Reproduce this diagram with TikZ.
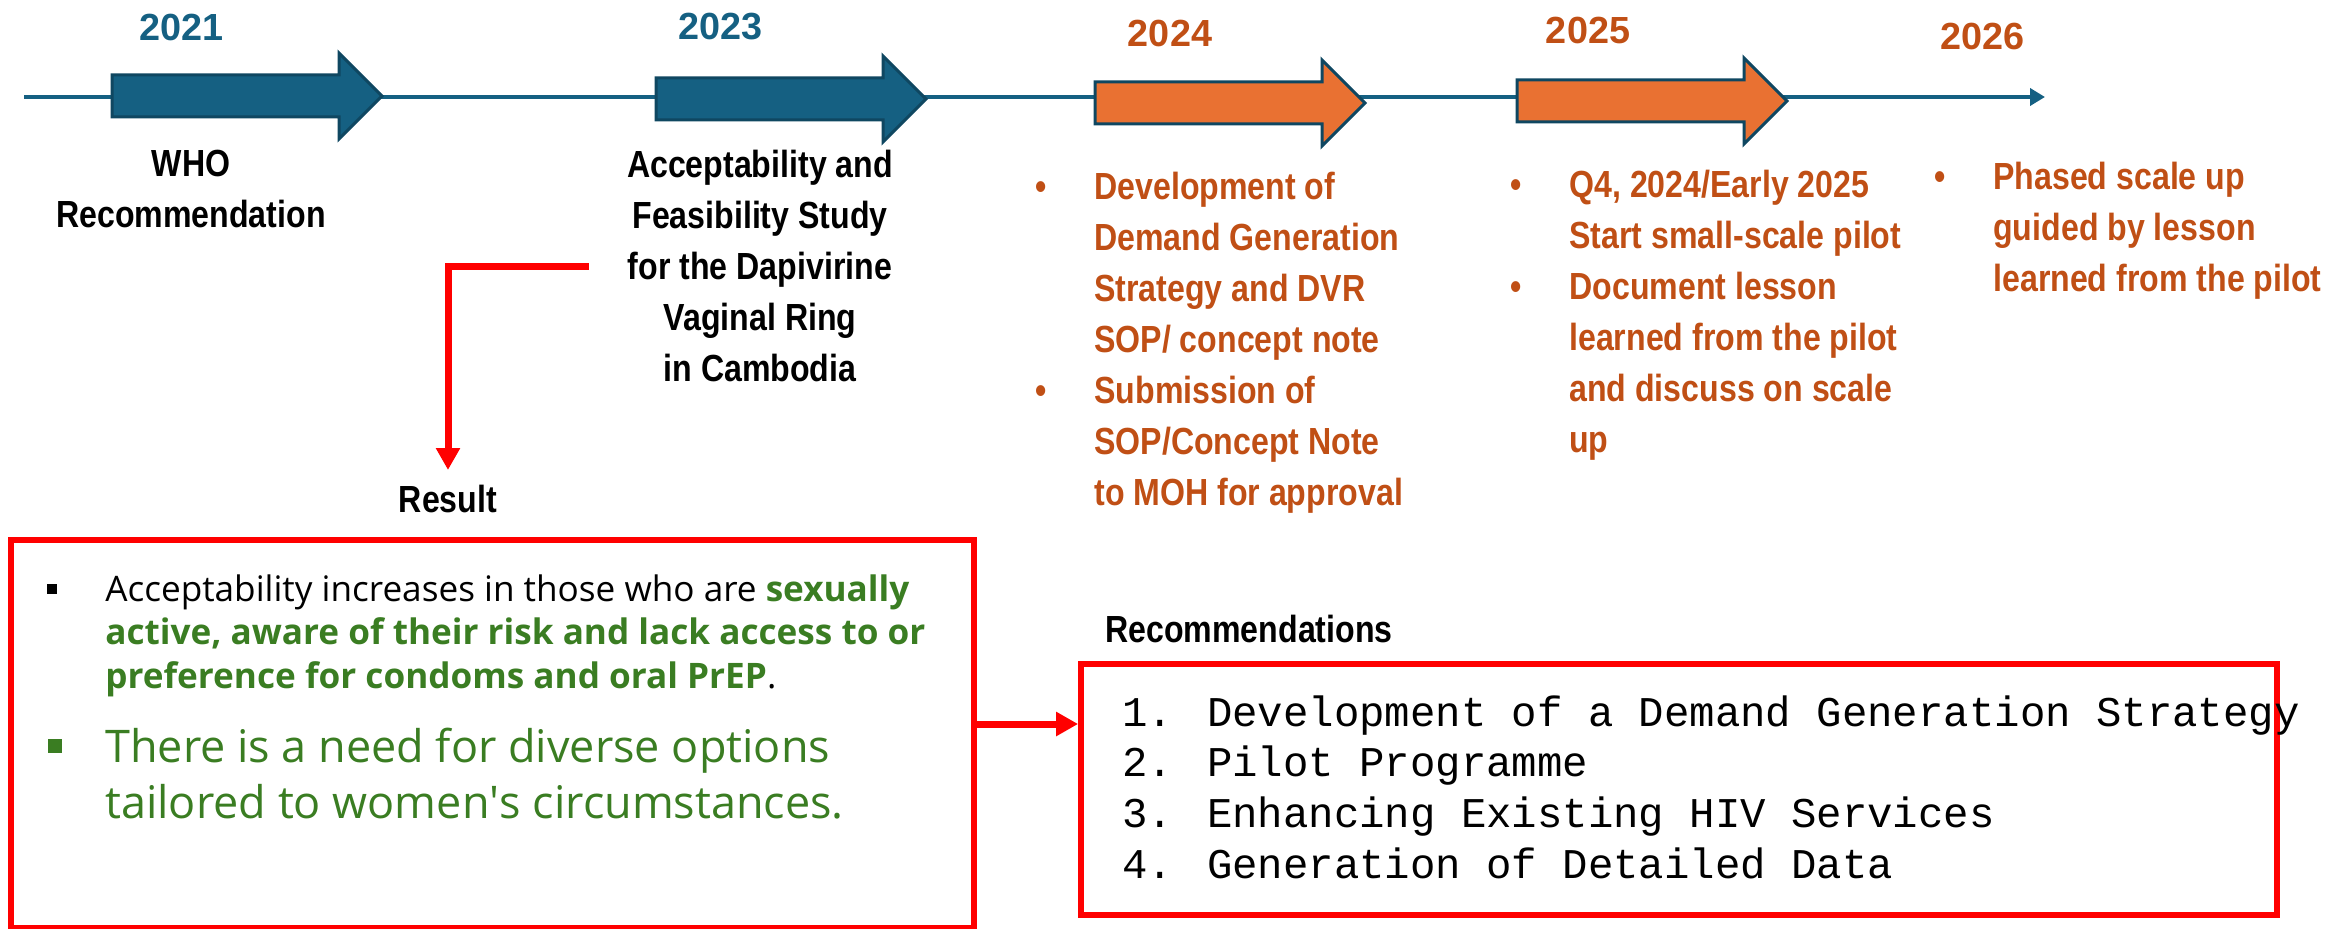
\documentclass[tikz,border=0pt]{standalone}
\usepackage{fontspec}
\setmainfont{Liberation Sans}
\newfontfamily\narrowsans[FakeStretch=0.85]{Liberation Sans}
\newfontfamily\uisans{Open Sans}
\newfontfamily\monofont{Liberation Mono}
\usetikzlibrary{arrows.meta}

\definecolor{tlblue}{HTML}{156082}
\definecolor{tlborder}{HTML}{0F4761}
\definecolor{tlorange}{HTML}{E97132}
\definecolor{tlbrown}{HTML}{C04F15}
\definecolor{tlgreen}{HTML}{3A7D22}

\newcommand{\tlbullet}{\llap{\textbullet\hspace{0.95cm}}}
\newcommand{\boxbullet}[3]{\llap{\rule[#2]{#1}{#1}\hspace{#3}}}
\newcommand{\hl}[1]{{\color{tlgreen}\bfseries #1}}

\begin{document}
\begin{tikzpicture}
[x=0.02cm, y=-0.02cm,
phase/.style={draw=tlborder, line width=0.06cm, line join=miter},
year/.style={font=\bfseries\fontsize{21.5}{29}\selectfont, inner sep=0},
redline/.style={red, line width=0.14cm, -{Triangle[length=0.44cm,width=0.46cm]}},
redbox/.style={draw=red, line width=0.12cm, inner sep=0}
]
\tikzset{every node/.style={inner sep=0}}
\tikzset{phase text/.style={font=\narrowsans\bfseries\fontsize{21.5}{29}\selectfont, align=center}}
\tikzset{todo text/.style={phase text, text=tlbrown, align=left, anchor=north west}}
\useasboundingbox (0,0) rectangle (2337,929);

% timeline
\coordinate (tlstart) at (24,97);
\coordinate (tlend) at (2045,97);
\draw[tlblue, line width=0.08cm, -{Triangle[length=0.3cm,width=0.34cm]}] (tlstart) -- (tlend);

\foreach \x/\y/\c in {112/96/tlblue, 656/99/tlblue, 1095/103/tlorange, 1517/101/tlorange}
    \draw[phase, fill=\c] (\x,\y) ++(0,-21) -- ++(227,0) -- ++(0,-22) -- ++(43,43)
        -- ++(-43,43) -- ++(0,-22) -- ++(-227,0) -- cycle;

\foreach \yr/\x/\y/\c in {2021/182/27/tlblue, 2023/721/27/tlblue,
                          2024/1170/33/tlbrown, 2025/1588/30/tlbrown, 2026/1982/37/tlbrown}
    \node[year, text=\c] (y\yr) at (\x,\y) {\yr};

% what happened / what comes next
\node[phase text, anchor=north] (who) at (191,150) {WHO\\Recommendation};
\node[phase text, anchor=north] (study) at (760,150)
    {Acceptability and\\Feasibility Study\\for the Dapivirine\\Vaginal Ring\\in Cambodia};
\node[todo text] (plan) at (1094,172)
    {\tlbullet Development of\\Demand Generation\\Strategy and DVR\\SOP/ concept note\\
     \tlbullet Submission of\\SOP/Concept Note\\to MOH for approval};
\node[todo text] (pilot) at (1569,170)
    {\tlbullet Q4, 2024/Early 2025\\Start small-scale pilot\\
     \tlbullet Document lesson\\learned from the pilot\\and discuss on scale\\up};
\node[todo text] (scale) at (1993,162)
    {\tlbullet Phased scale up\\guided by lesson\\learned from the pilot};

% findings box
\node[phase text, anchor=north] (result) at (448,485) {Result};
\node[redbox, minimum width=19.26cm, minimum height=7.76cm] (resbox) at (492.5,734) {};
\node[anchor=north west, align=left, font=\uisans\fontsize{20}{25}\selectfont] (finding) at (105,574)
    {\boxbullet{0.2cm}{0.14cm}{0.96cm}Acceptability increases in those who are \hl{sexually}\\
     \hl{active, aware of their risk and lack access to or}\\
     \hl{preference for condoms and oral PrEP}.};
\node[anchor=north west, align=left, text=tlgreen, font=\uisans\fontsize{25.6}{32}\selectfont] (need) at (105,728)
    {\boxbullet{0.28cm}{0.2cm}{0.86cm}There is a need for diverse options\\
     tailored to women\textquotesingle s circumstances.};

% recommendations box
\node[phase text, anchor=north west] (rechead) at (1105,615) {Recommendations};
\node[redbox, minimum width=23.92cm, minimum height=5.02cm] (recbox) at (1679,789.5) {};
\node[anchor=north west, align=left, font=\monofont\fontsize{24.1}{29}\selectfont] (reclist) at (1122,695)
    {1. Development of a Demand Generation Strategy\\2. Pilot Programme\\
     3. Enhancing Existing HIV Services\\4. Generation of Detailed Data};

\draw[redline] ([xshift=-0.76cm]study.west) -| ([yshift=0.3cm]result.north);
\coordinate (link) at ([yshift=0.2cm]resbox.east);
\draw[redline] (link) -- (link -| recbox.west);
\end{tikzpicture}
\end{document}
